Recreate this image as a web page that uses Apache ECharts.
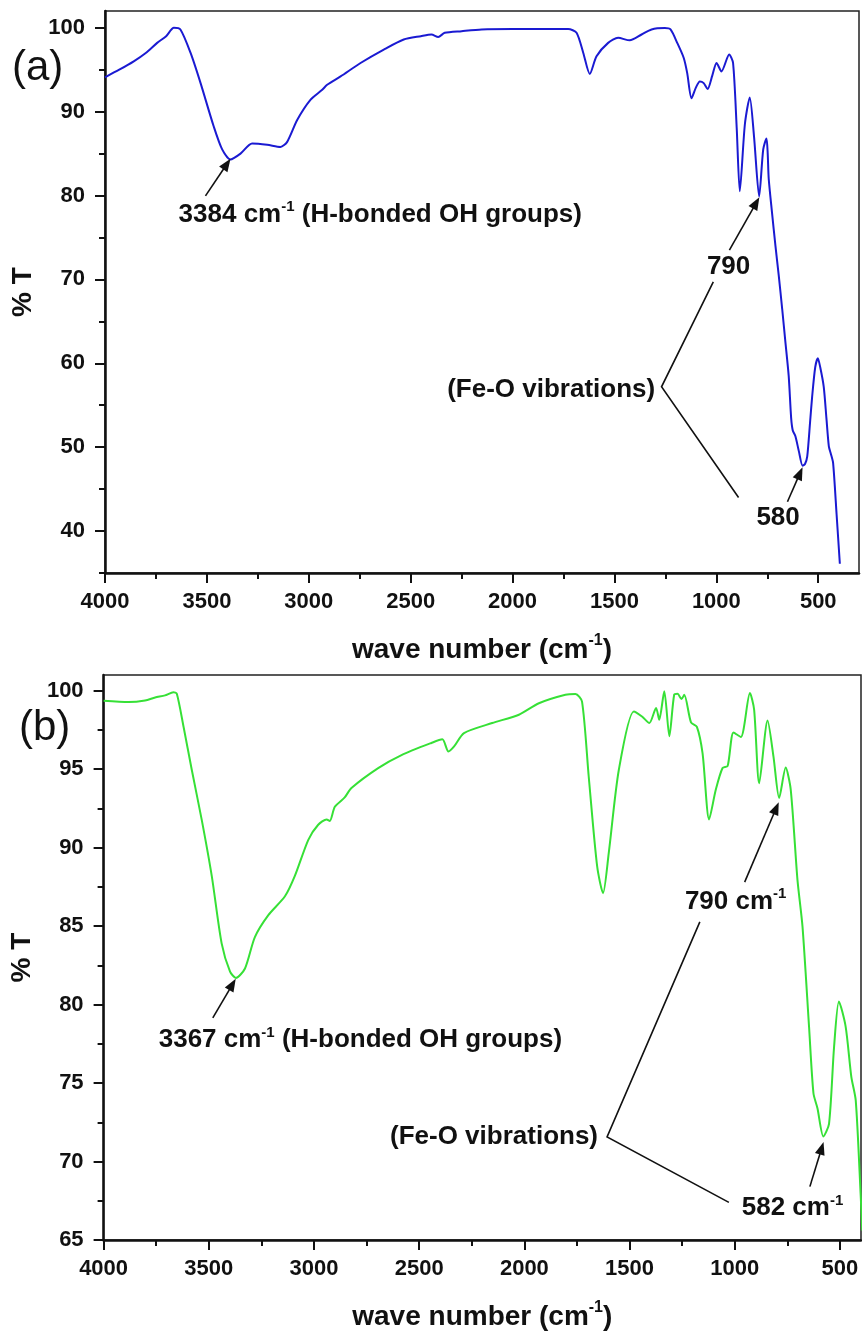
<!DOCTYPE html>
<html><head><meta charset="utf-8">
<script src="https://cdn.jsdelivr.net/npm/echarts@6/dist/echarts.min.js"></script>
<style>html,body{margin:0;padding:0;background:#fff}#c{width:862px;height:1334px}</style>
</head><body><div id="c"></div>
<script>
// ---- data: panel (a) ----
const waveA = [4000,3930,3859,3800,3744,3700,3662,3630,3580,3531,3466,3425,3384,3335,3278,3204,3139,3106,3057,2992,2934,2910,2844,2746,2632,2534,2450,2398,2365,2333,2250,2152,2000,1907,1800,1727,1686,1653,1621,1588,1531,1482,1425,1367,1318,1253,1225,1192,1160,1143,1122,1100,1081,1062,1043,1020,999,975,937,918,900,885,860,836,815,790,770,754,748,743,727,710,694,677,661,645,633,625,612,595,577,565,554,540,530,515,502,490,473,460,448,438,427,410,394];
const transA = [94.1,95.0,96.0,97.0,98.2,99.0,100.0,99.8,97.0,93.4,88.2,85.5,84.3,85.0,86.2,86.05,85.8,86.4,89.0,91.4,92.6,93.2,94.2,95.8,97.4,98.6,99.0,99.2,98.9,99.4,99.6,99.8,99.85,99.85,99.85,99.85,99.4,97.0,94.5,96.6,98.2,98.8,98.5,99.2,99.8,99.96,99.8,98.2,96.4,94.6,91.6,92.9,93.6,93.4,92.7,94.3,95.8,94.8,96.8,95.8,88.0,80.5,88.5,91.7,87.0,79.9,85.5,86.8,85.0,82.0,78.0,74.0,70.5,66.5,62.5,58.5,53.5,52.0,51.3,49.5,47.8,48.0,48.9,53.0,56.0,59.5,60.6,59.5,57.2,53.5,50.1,49.2,48.1,42.0,36.1];
// ---- data: panel (b) ----
const waveB = [4000,3881,3803,3755,3708,3668,3652,3620,3581,3534,3486,3439,3399,3371,3328,3281,3217,3138,3091,3027,2980,2940,2925,2901,2854,2822,2695,2584,2442,2390,2361,2334,2287,2153,2026,1931,1805,1757,1726,1694,1654,1626,1599,1551,1480,1441,1406,1374,1359,1335,1311,1288,1272,1253,1240,1208,1180,1153,1122,1090,1058,1034,1006,971,928,908,884,844,816,789,758,734,702,678,647,626,607,579,552,528,505,473,446,425,402,394];
const transB = [99.36,99.28,99.38,99.57,99.7,99.9,99.8,97.7,94.96,91.8,88.2,83.9,82.1,81.7,82.3,84.3,85.7,86.9,88.2,90.5,91.46,91.8,91.7,92.6,93.2,93.8,95.07,95.9,96.67,96.9,96.13,96.45,97.3,97.94,98.47,99.2,99.74,99.79,99.3,94.5,88.8,87.1,89.65,94.96,98.68,98.36,97.94,98.9,98.15,99.96,97.1,99.74,99.8,99.47,99.74,97.98,97.7,96.0,91.8,93.7,95.07,95.2,97.34,97.05,99.85,98.8,94.1,98.1,95.8,93.16,95.1,93.7,87.95,84.97,78.6,74.35,73.4,71.6,72.4,77.3,80.2,78.6,75.4,73.9,68.0,65.6];
// ---- ticks ----
const xMajorTicks = [4000,3500,3000,2500,2000,1500,1000,500];
const xMinorTicks = [3750,3250,2750,2250,1750,1250,750];
const yMajorA = [40,50,60,70,80,90,100];
const yMinorA = [35,45,55,65,75,85,95];
const yMajorB = [65,70,75,80,85,90,95,100];
const yMinorB = [67.5,72.5,77.5,82.5,87.5,92.5,97.5];

const FONT = '"Liberation Sans", Arial, sans-serif';
const INK = '#111';

function pairs(xs, ys){ return xs.map((x,i)=>[x, ys[i]]); }

function xAxesFor(gi, min){
  const nameRich = {
    t:{fontSize:28,fontWeight:'bold',fontFamily:FONT,color:INK,lineHeight:34},
    s:{fontSize:16,fontWeight:'bold',fontFamily:FONT,color:INK,verticalAlign:'top',lineHeight:16}
  };
  return [
    {gridIndex:gi,type:'value',inverse:true,min:min,max:4000,position:'bottom',
     axisLine:{show:true,onZero:false,lineStyle:{color:INK,width:2.5}},
     axisTick:{show:true,customValues:xMajorTicks,length:10,lineStyle:{color:INK,width:2}},
     axisLabel:{show:true,customValues:xMajorTicks,margin:18,fontSize:22,fontWeight:'bold',fontFamily:FONT,color:INK,
       formatter:v=>String(v)},
     splitLine:{show:false},
     name:'{t|wave number (cm}{s|-1}{t|)}',nameLocation:'middle',nameGap:60,
     nameTextStyle:{rich:nameRich}},
    {gridIndex:gi,type:'value',inverse:true,min:min,max:4000,position:'bottom',
     axisLine:{show:false,onZero:false},
     axisTick:{show:true,customValues:xMinorTicks,length:6,lineStyle:{color:INK,width:2}},
     axisLabel:{show:false},splitLine:{show:false}}
  ];
}
function yAxesFor(gi, min, max, major, minor){
  return [
    {gridIndex:gi,type:'value',min:min,max:max,position:'left',
     axisLine:{show:true,onZero:false,lineStyle:{color:INK,width:2.5}},
     axisTick:{show:true,customValues:major,length:10,lineStyle:{color:INK,width:2}},
     axisLabel:{show:true,customValues:major,margin:20,fontSize:22,fontWeight:'bold',fontFamily:FONT,color:INK,
       formatter:v=>String(v)},
     splitLine:{show:false},
     name:'% T',nameLocation:'middle',nameGap:58,
     nameTextStyle:{fontSize:28,fontWeight:'bold',fontFamily:FONT,color:INK}},
    {gridIndex:gi,type:'value',min:min,max:max,position:'left',
     axisLine:{show:false,onZero:false},
     axisTick:{show:true,customValues:minor,length:6,lineStyle:{color:INK,width:2}},
     axisLabel:{show:false},splitLine:{show:false}}
  ];
}

const chart = echarts.init(document.getElementById('c'), null, {renderer:'canvas'});
chart.setOption({
  backgroundColor:'#fff',
  animation:false,
  grid:[
    {left:105,top:11,width:754,height:562,show:true,borderColor:'#222',borderWidth:1.5,backgroundColor:'transparent'},
    {left:102,top:675,width:759,height:565,show:true,borderColor:'#222',borderWidth:1.5,backgroundColor:'transparent'}
  ],
  xAxis:[...xAxesFor(0,300), ...xAxesFor(1,400)],
  yAxis:[...yAxesFor(0,35,102,yMajorA,yMinorA), ...yAxesFor(1,65,101,yMajorB,yMinorB)],
  series:[
    {type:'line',xAxisIndex:0,yAxisIndex:0,data:pairs(waveA,transA),showSymbol:false,smooth:0.25,
     lineStyle:{color:'#1a1ad2',width:2},clip:true},
    {type:'line',xAxisIndex:2,yAxisIndex:2,data:pairs(waveB,transB),showSymbol:false,smooth:0.25,
     lineStyle:{color:'#36e036',width:2},clip:true}
  ]
});

// ---- annotations (anchored in data coordinates) ----
const annotations = [
  {series:0, size:26,
   arrows:[[[3507,79.96],[3384,84.4]], [[936,73.5],[789,79.8]], [[651,43.5],[577,47.6]]],
   lines:[[[1015,69.7],[1269,57.2],[891,44.0]]],
   texts:[
     {at:[3639,77.7],align:'left',parts:[['3384 cm','b'],['-1','s'],[' (H-bonded OH groups)','b']]},
     {at:[940,71.5],align:'center',parts:[['790','b']]},
     {at:[1300,56.8],align:'right',parts:[['(Fe-O vibrations)','b']]},
     {at:[697,41.6],align:'center',parts:[['580','b']]}
   ]},
  {series:1, size:26,
   arrows:[[[3481,79.15],[3372,81.64]], [[953,87.8],[791,92.9]], [[643,68.4],[578,71.25]]],
   lines:[[[1166,85.27],[1607,71.57],[1028,67.4]]],
   texts:[
     {at:[3738,77.75],align:'left',parts:[['3367 cm','b'],['-1','s'],[' (H-bonded OH groups)','b']]},
     {at:[1237,86.57],align:'left',parts:[['790 cm','b'],['-1','s']]},
     {at:[1650,71.57],align:'right',parts:[['(Fe-O vibrations)','b']]},
     {at:[967,67.04],align:'left',parts:[['582 cm','b'],['-1','s']]}
   ]}
];

function toPx(si, pt){ return chart.convertToPixel({seriesIndex:si}, pt); }

const graphics = [];
annotations.forEach(a=>{
  a.arrows.forEach(([from,to])=>{
    const p0 = toPx(a.series, from), p1 = toPx(a.series, to);
    const dx = p1[0]-p0[0], dy = p1[1]-p0[1], len = Math.hypot(dx,dy);
    const ux = dx/len, uy = dy/len, nx = -uy, ny = ux;
    const L = 13, W = 5;
    const bx = p1[0]-ux*L, by = p1[1]-uy*L;
    graphics.push({type:'line',shape:{x1:p0[0],y1:p0[1],x2:bx+ux*2,y2:by+uy*2},style:{stroke:INK,lineWidth:1.6},z:10});
    graphics.push({type:'polygon',shape:{points:[[p1[0],p1[1]],[bx+nx*W,by+ny*W],[bx-nx*W,by-ny*W]]},style:{fill:INK},z:10});
  });
  a.lines.forEach(pts=>{
    graphics.push({type:'polyline',shape:{points:pts.map(p=>toPx(a.series,p))},style:{stroke:INK,lineWidth:1.6,fill:null},z:10});
  });
  a.texts.forEach(t=>{
    const p = toPx(a.series, t.at);
    const txt = t.parts.map(([s,k])=>'{'+k+'|'+s+'}').join('');
    graphics.push({type:'text',x:p[0],y:p[1],z:11,style:{
      text:txt,align:t.align,verticalAlign:'middle',
      rich:{
        b:{fontSize:a.size,fontWeight:'bold',fontFamily:FONT,fill:INK,lineHeight:a.size+4},
        s:{fontSize:15,fontWeight:'bold',fontFamily:FONT,fill:INK,verticalAlign:'top',lineHeight:15}
      }}});
  });
});
// panel letters
graphics.push({type:'text',x:12,y:68,z:11,style:{text:'(a)',font:'normal 42px '+FONT,fill:INK,align:'left',verticalAlign:'middle'}});
graphics.push({type:'text',x:19,y:728,z:11,style:{text:'(b)',font:'normal 42px '+FONT,fill:INK,align:'left',verticalAlign:'middle'}});

chart.setOption({graphic:graphics});
</script>
</body></html>
